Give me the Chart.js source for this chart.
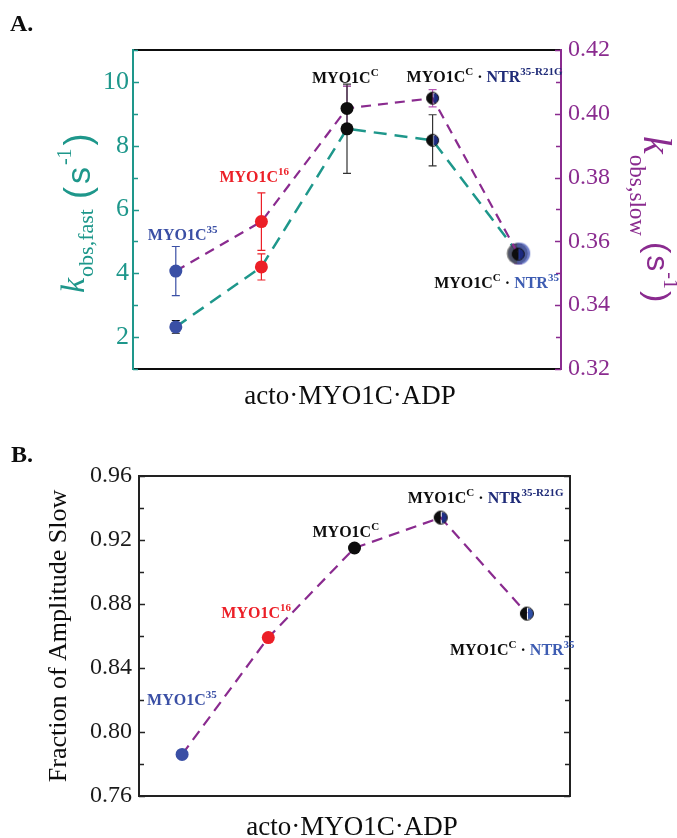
<!DOCTYPE html>
<html>
<head>
<meta charset="utf-8">
<script src="https://cdn.jsdelivr.net/npm/chart.js@4.4.0/dist/chart.umd.min.js"></script>
<style>
  body { margin: 0; background: #fff; }
  #wrap { position: relative; width: 677px; height: 838px; }
  canvas { position: absolute; left: 0; }
  #chartA { top: 0; }
  #chartB { top: 420px; }
</style>
</head>
<body>
<div id="wrap">
  <canvas id="chartA" width="677" height="420"></canvas>
  <canvas id="chartB" width="677" height="418"></canvas>
</div>
<script>
// constructs, in plot order
var categories = ['MYO1C35', 'MYO1C16', 'MYO1CC', 'MYO1CC·NTR35-R21G', 'MYO1CC·NTR35'];

// panel A: observed rate constants
var kFast = [2.32, 4.20, 8.53, 8.17, 4.62];
var kFastErr = [0.20, 0.41, 1.40, 0.80, 0.20];
var kSlow = [0.3507, 0.3662, 0.4017, 0.4049, 0.3560];
var kSlowErr = [0.0077, 0.0090, 0.0070, 0.0027, 0.0030];

// panel B: fraction of amplitude in the slow phase
var ampSlow = [0.786, 0.859, 0.915, 0.934, 0.874];

var fastTicks = [2, 4, 6, 8, 10];
var slowTicks = [0.32, 0.34, 0.36, 0.38, 0.40, 0.42];
var ampTicks = [0.76, 0.80, 0.84, 0.88, 0.92, 0.96];

var SERIF = '"Liberation Serif", "DejaVu Serif", serif';
var SANS = '"Liberation Sans", "DejaVu Sans", sans-serif';
var TEAL = '#1e978b';
var PURPLE = '#8a2b8f';
var BLUE = '#3a4fa5';
var RED = '#ec1f27';
var BLACK = '#0d0d0d';
var NAVY = '#1f2b78';
var NTRBLUE = '#3d5cb2';

function halfDot(r, right) {
    var s = Math.ceil(2 * r + 3);
    var c = document.createElement('canvas');
    c.width = s; c.height = s;
    var g = c.getContext('2d');
    var m = s / 2;
    g.beginPath(); g.arc(m, m, r, Math.PI / 2, Math.PI * 1.5); g.fillStyle = BLACK; g.fill();
    g.beginPath(); g.arc(m + 1, m, r - 1, -Math.PI / 2, Math.PI / 2); g.fillStyle = right; g.fill();
    g.beginPath(); g.arc(m, m, r, 0, Math.PI * 2); g.lineWidth = 1; g.strokeStyle = BLACK; g.stroke();
    return c;
}

// the overlapping fast/slow point at the last construct in panel A
function haloDot() {
    var s = 28, m = 14;
    var c = document.createElement('canvas');
    c.width = s; c.height = s;
    var g = c.getContext('2d');
    g.beginPath(); g.arc(m + 1, m, 11, 0, Math.PI * 2); g.fillStyle = 'rgba(70,90,190,0.75)'; g.fill();
    g.beginPath(); g.arc(m - 1, m, 10.5, 0, Math.PI * 2); g.fillStyle = 'rgba(60,60,60,0.7)'; g.fill();
    g.beginPath(); g.arc(m - 1, m, 10.5, -Math.PI / 2, Math.PI / 2); g.fillStyle = 'rgba(80,100,200,0.55)'; g.fill();
    g.beginPath(); g.arc(m, m, 5.5, Math.PI / 2, Math.PI * 1.5); g.fillStyle = BLACK; g.fill();
    g.beginPath(); g.arc(m, m, 5.5, -Math.PI / 2, Math.PI / 2); g.fillStyle = '#2a3f9a'; g.fill();
    return c;
}

function drawParts(ctx, x, y, parts) {
    var cx = x;
    parts.forEach(function (p) {
        ctx.font = p.font;
        ctx.fillStyle = p.color;
        ctx.fillText(p.t, cx, y + (p.dy || 0));
        cx += ctx.measureText(p.t).width + (p.gap || 0);
    });
}

var B16 = 'bold 16px ' + SERIF;
var B11 = 'bold 11px ' + SERIF;

function tag(main, color, sup) {
    return [{ t: main, font: B16, color: color }, { t: sup, font: B11, color: color, dy: -7 }];
}
function tagNTR(sup, color) {
    return tag('MYO1C', BLACK, 'C').concat([
        { t: ' · ', font: B16, color: BLACK },
        { t: 'NTR', font: B16, color: color },
        { t: sup, font: B11, color: color, dy: -7 }
    ]);
}

// label offsets from each category centre, baseline in canvas px
var labelsA = [
    { i: 0, dx: -28, y: 240, parts: tag('MYO1C', BLUE, '35') },
    { i: 1, dx: -42, y: 182, parts: tag('MYO1C', RED, '16') },
    { i: 2, dx: -35, y: 83, parts: tag('MYO1C', BLACK, 'C') },
    { i: 3, dx: -26, y: 82, parts: tagNTR('35-R21G', NAVY) },
    { i: 4, dx: -84, y: 288, parts: tagNTR('35', NTRBLUE) }
];
var labelsB = [
    { i: 0, dx: -35, y: 285, parts: tag('MYO1C', BLUE, '35') },
    { i: 1, dx: -47, y: 198, parts: tag('MYO1C', RED, '16') },
    { i: 2, dx: -42, y: 117, parts: tag('MYO1C', BLACK, 'C') },
    { i: 3, dx: -33, y: 83, parts: tagNTR('35-R21G', NAVY) },
    { i: 4, dx: -77, y: 235, parts: tagNTR('35', NTRBLUE) }
];

function hasTick(list, v) {
    return list.some(function (t) { return Math.abs(t - v) < 1e-6; });
}

var errorBars = {
    id: 'errorBars',
    beforeDatasetsDraw: function (chart) {
        var ctx = chart.ctx;
        chart.data.datasets.forEach(function (ds, di) {
            if (!ds.errors) return;
            var meta = chart.getDatasetMeta(di);
            var ys = chart.scales[ds.yAxisID];
            meta.data.forEach(function (pt, i) {
                var top = ys.getPixelForValue(ds.data[i] + ds.errors[i]);
                var bot = ys.getPixelForValue(ds.data[i] - ds.errors[i]);
                ctx.save();
                ctx.strokeStyle = ds.errorColors[i];
                ctx.lineWidth = 1.2;
                ctx.beginPath();
                ctx.moveTo(pt.x, top); ctx.lineTo(pt.x, bot);
                ctx.moveTo(pt.x - 4, top); ctx.lineTo(pt.x + 4, top);
                ctx.moveTo(pt.x - 4, bot); ctx.lineTo(pt.x + 4, bot);
                ctx.stroke();
                ctx.restore();
            });
        });
    }
};

function inwardTicks(ctx, scale, x, dir, step, majorList, color) {
    ctx.save();
    ctx.strokeStyle = color;
    ctx.lineWidth = 1.5;
    ctx.beginPath();
    for (var v = scale.min; v <= scale.max + 1e-9; v += step) {
        var y = Math.round(scale.getPixelForValue(v)) + 0.5;
        var len = hasTick(majorList, v) ? 6 : 5;
        ctx.moveTo(x, y); ctx.lineTo(x + dir * len, y);
    }
    ctx.stroke();
    ctx.restore();
}

function frameLine(ctx, x1, y1, x2, y2, color) {
    ctx.save();
    ctx.strokeStyle = color;
    ctx.lineWidth = 2;
    ctx.beginPath(); ctx.moveTo(x1, y1); ctx.lineTo(x2, y2); ctx.stroke();
    ctx.restore();
}

function drawLabels(chart, list) {
    var ctx = chart.ctx;
    var xs = chart.scales.x;
    ctx.save();
    ctx.textBaseline = 'alphabetic';
    list.forEach(function (l) {
        drawParts(ctx, xs.getPixelForValue(l.i) + l.dx, l.y, l.parts);
    });
    ctx.restore();
}

function centredText(ctx, text, x, y, font, color) {
    ctx.save();
    ctx.font = font; ctx.fillStyle = color; ctx.textAlign = 'center';
    ctx.fillText(text, x, y);
    ctx.restore();
}

var decorA = {
    id: 'decorA',
    afterDraw: function (chart) {
        var ctx = chart.ctx, a = chart.chartArea;
        frameLine(ctx, a.left, a.top, a.right, a.top, BLACK);
        frameLine(ctx, a.left, a.bottom, a.right, a.bottom, BLACK);
        frameLine(ctx, a.left, a.top - 1, a.left, a.bottom + 1, TEAL);
        frameLine(ctx, a.right, a.top - 1, a.right, a.bottom + 1, PURPLE);
        inwardTicks(ctx, chart.scales.yFast, a.left, 1, 1, fastTicks, TEAL);
        inwardTicks(ctx, chart.scales.ySlow, a.right, -1, 0.01, slowTicks, PURPLE);
        drawLabels(chart, labelsA);

        ctx.save();
        ctx.font = 'bold 24px ' + SERIF; ctx.fillStyle = BLACK;
        ctx.fillText('A.', 10, 31);
        ctx.restore();

        centredText(ctx, 'acto·MYO1C·ADP', 350, 404, '27px ' + SERIF, BLACK);

        // left axis title, reads upwards
        ctx.save();
        ctx.translate(84, 293);
        ctx.rotate(-Math.PI / 2);
        drawParts(ctx, 0, 0, [
            { t: 'k', font: 'italic 34px ' + SERIF, color: TEAL, gap: 1 },
            { t: 'obs,fast', font: '22px ' + SERIF, color: TEAL, dy: 9, gap: 10 },
            { t: '(', font: '36px ' + SANS, color: TEAL, dy: 6, gap: 3 },
            { t: 's', font: '34px ' + SANS, color: TEAL, dy: 6, gap: 2 },
            { t: '-1', font: '20px ' + SERIF, color: TEAL, dy: -13, gap: 3 },
            { t: ')', font: '36px ' + SANS, color: TEAL, dy: 6 }
        ]);
        ctx.restore();

        // right axis title, reads downwards
        ctx.save();
        ctx.translate(644, 136);
        ctx.rotate(Math.PI / 2);
        drawParts(ctx, 0, 0, [
            { t: 'k', font: 'italic 40px ' + SERIF, color: PURPLE, gap: 1 },
            { t: 'obs,slow', font: '23px ' + SERIF, color: PURPLE, dy: 14, gap: 6 },
            { t: '(', font: '34px ' + SANS, color: PURPLE, dy: -3, gap: 2 },
            { t: 's', font: '32px ' + SANS, color: PURPLE, dy: -3, gap: 1 },
            { t: '-1', font: '20px ' + SERIF, color: PURPLE, dy: -20, gap: 2 },
            { t: ')', font: '34px ' + SANS, color: PURPLE, dy: -3 }
        ]);
        ctx.restore();
    }
};

var decorB = {
    id: 'decorB',
    afterDraw: function (chart) {
        var ctx = chart.ctx, a = chart.chartArea;
        frameLine(ctx, a.left, a.top, a.right, a.top, '#222');
        frameLine(ctx, a.left, a.bottom, a.right, a.bottom, '#222');
        frameLine(ctx, a.left, a.top - 1, a.left, a.bottom + 1, '#222');
        frameLine(ctx, a.right, a.top - 1, a.right, a.bottom + 1, '#222');
        inwardTicks(ctx, chart.scales.yAmp, a.left, 1, 0.02, ampTicks, '#222');
        inwardTicks(ctx, chart.scales.yAmp, a.right, -1, 0.02, ampTicks, '#222');
        drawLabels(chart, labelsB);

        ctx.save();
        ctx.font = 'bold 24px ' + SERIF; ctx.fillStyle = BLACK;
        ctx.fillText('B.', 11, 42);
        ctx.restore();

        centredText(ctx, 'acto·MYO1C·ADP', 352, 415, '27px ' + SERIF, BLACK);

        ctx.save();
        ctx.translate(66, 216);
        ctx.rotate(-Math.PI / 2);
        ctx.font = '26px ' + SERIF; ctx.fillStyle = BLACK; ctx.textAlign = 'center';
        ctx.fillText('Fraction of Amplitude Slow', 0, 0);
        ctx.restore();
    }
};

var catAxis = function (h) {
    return {
        type: 'category',
        offset: true,
        grid: { display: false },
        border: { display: false },
        ticks: { display: false },
        afterFit: function (s) { s.height = h; }
    };
};

var halfNavy = halfDot(6, '#1c2a80');
var halo = haloDot();

new Chart(document.getElementById('chartA'), {
    type: 'line',
    data: {
        labels: categories,
        datasets: [
            {
                label: 'k obs,slow',
                data: kSlow,
                yAxisID: 'ySlow',
                errors: kSlowErr,
                errorColors: [BLUE, RED, PURPLE, '#b555b5', '#a040a0'],
                borderColor: PURPLE,
                borderWidth: 2.2,
                borderDash: [10, 7],
                pointStyle: ['circle', 'circle', 'circle', halfNavy, halfNavy],
                pointRadius: 6.5,
                pointBackgroundColor: [BLUE, RED, BLACK, BLACK, BLACK],
                pointBorderWidth: 0,
                tension: 0
            },
            {
                label: 'k obs,fast',
                data: kFast,
                yAxisID: 'yFast',
                errors: kFastErr,
                errorColors: [BLACK, RED, '#333', '#333', BLUE],
                borderColor: TEAL,
                borderWidth: 2.5,
                borderDash: [13, 8],
                pointStyle: ['circle', 'circle', 'circle', halfNavy, halo],
                pointRadius: 6.5,
                pointBackgroundColor: [BLUE, RED, BLACK, BLACK, BLACK],
                pointBorderWidth: 0,
                tension: 0
            }
        ]
    },
    options: {
        responsive: false,
        animation: false,
        layout: { padding: { top: 50, left: 0, right: 0, bottom: 0 } },
        plugins: { legend: { display: false }, tooltip: { enabled: false } },
        scales: {
            x: catAxis(51),
            yFast: {
                position: 'left',
                min: 1, max: 11,
                grid: { display: false, drawTicks: false },
                border: { display: false },
                ticks: {
                    stepSize: 1,
                    autoSkip: false,
                    padding: 4,
                    color: TEAL,
                    font: { family: SERIF, size: 26 },
                    callback: function (v) { return hasTick(fastTicks, v) ? String(v) : ''; }
                },
                afterFit: function (s) { s.width = 133; }
            },
            ySlow: {
                position: 'right',
                min: 0.32, max: 0.42,
                grid: { display: false, drawTicks: false },
                border: { display: false },
                ticks: {
                    stepSize: 0.01,
                    autoSkip: false,
                    padding: 7,
                    color: PURPLE,
                    font: { family: SERIF, size: 24 },
                    callback: function (v) { return hasTick(slowTicks, v) ? v.toFixed(2) : ''; }
                },
                afterFit: function (s) { s.width = 116; }
            }
        }
    },
    plugins: [errorBars, decorA]
});

new Chart(document.getElementById('chartB'), {
    type: 'line',
    data: {
        labels: categories,
        datasets: [
            {
                label: 'Fraction of Amplitude Slow',
                data: ampSlow,
                yAxisID: 'yAmp',
                borderColor: PURPLE,
                borderWidth: 2.2,
                borderDash: [11, 7],
                pointStyle: ['circle', 'circle', 'circle', halfDot(6.5, '#1f2f86'), halfDot(6.5, '#2f4fa6')],
                pointRadius: 6.5,
                pointBackgroundColor: [BLUE, RED, BLACK, BLACK, BLACK],
                pointBorderWidth: 0,
                tension: 0
            }
        ]
    },
    options: {
        responsive: false,
        animation: false,
        layout: { padding: { top: 56, left: 0, right: 107, bottom: 0 } },
        plugins: { legend: { display: false }, tooltip: { enabled: false } },
        scales: {
            x: catAxis(42),
            yAmp: {
                position: 'left',
                min: 0.76, max: 0.96,
                grid: { display: false, drawTicks: false },
                border: { display: false },
                ticks: {
                    stepSize: 0.02,
                    autoSkip: false,
                    padding: 7,
                    color: '#1a1a1a',
                    font: { family: SERIF, size: 24 },
                    callback: function (v) { return hasTick(ampTicks, v) ? v.toFixed(2) : ''; }
                },
                afterFit: function (s) { s.width = 139; }
            }
        }
    },
    plugins: [decorB]
});
</script>
</body>
</html>
